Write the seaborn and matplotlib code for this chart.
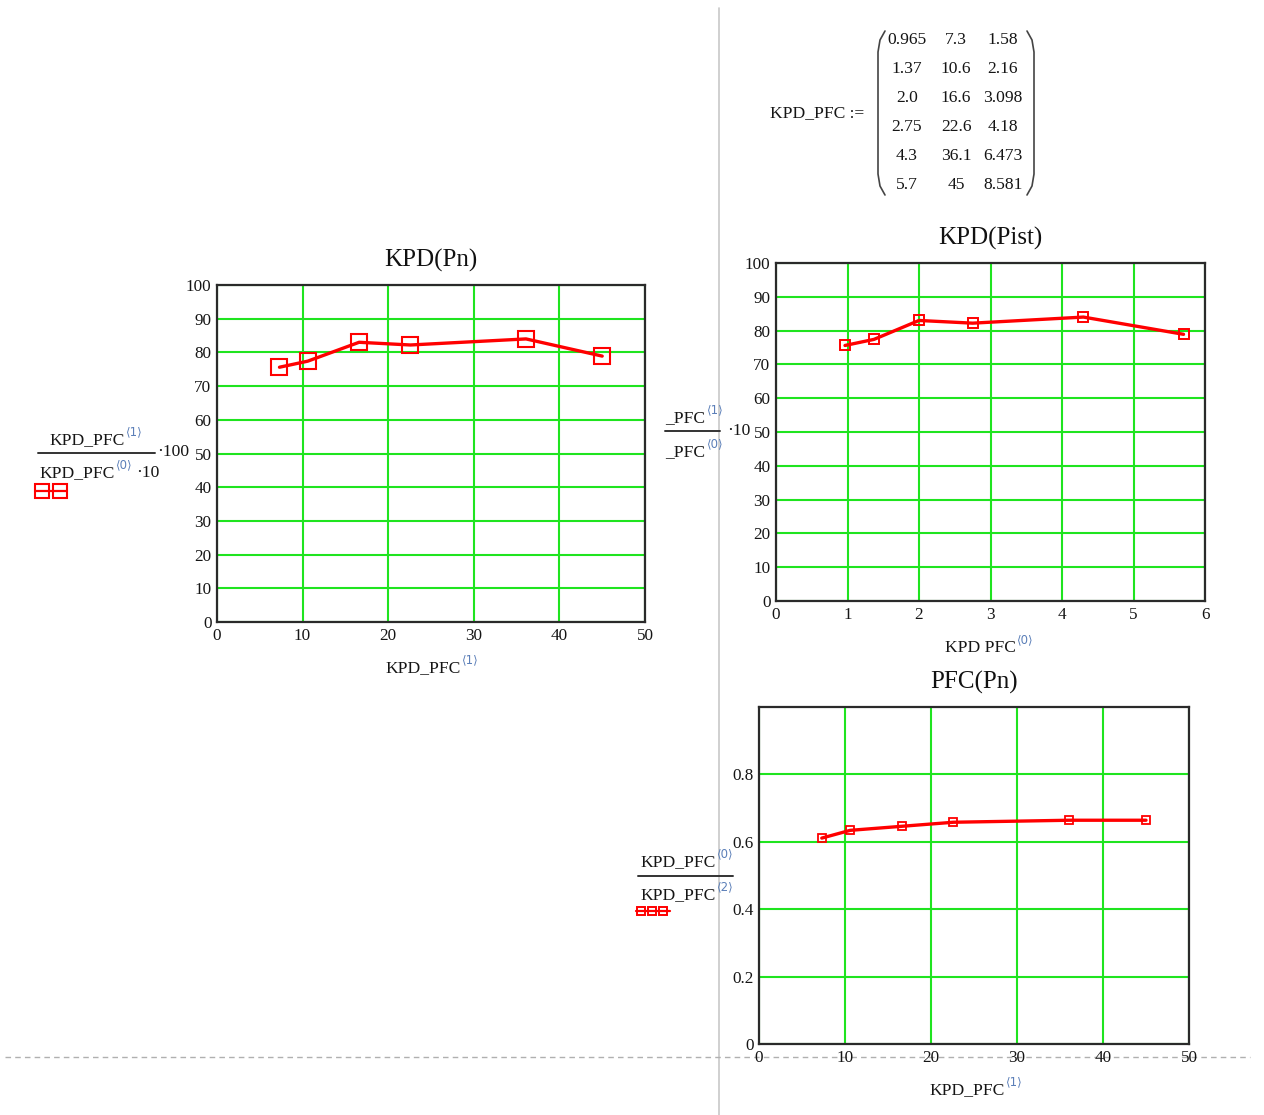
import matplotlib
matplotlib.use("Agg")
import matplotlib.pyplot as plt
import seaborn as sns
import pandas as pd

# ---------------- data ----------------
pist = [0.965, 1.37, 2.0, 2.75, 4.3, 5.7]          # KPD_PFC<0>
pn = [7.3, 10.6, 16.6, 22.6, 36.1, 45]              # KPD_PFC<1>
col2 = [1.58, 2.16, 3.098, 4.18, 6.473, 8.581]      # KPD_PFC<2>
col0_txt = ["0.965", "1.37", "2.0", "2.75", "4.3", "5.7"]
col1_txt = ["7.3", "10.6", "16.6", "22.6", "36.1", "45"]
col2_txt = ["1.58", "2.16", "3.098", "4.18", "6.473", "8.581"]

kpd = [75.6, 77.4, 83.0, 82.2, 84.0, 78.9]          # KPD, %
pfc = [0.611, 0.634, 0.646, 0.658, 0.664, 0.664]    # PFC

kpd_yticks = [0, 10, 20, 30, 40, 50, 60, 70, 80, 90, 100]
pn_xticks = [0, 10, 20, 30, 40, 50]
pist_xticks = [0, 1, 2, 3, 4, 5, 6]
pfc_yticks = [0, 0.2, 0.4, 0.6, 0.8]
pfc_ylabels = ["0", "0.2", "0.4", "0.6", "0.8"]

df_pn = pd.DataFrame({"Pn": pn, "KPD": kpd, "PFC": pfc})
df_pist = pd.DataFrame({"Pist": pist, "KPD": kpd})

# ---------------- style ----------------
sns.set_style("white")
plt.rcParams["font.family"] = ["Liberation Serif", "DejaVu Serif"]
W, H = 1264, 1115
fig = plt.figure(figsize=(W / 100, H / 100), dpi=100, facecolor="white")

GRID = "#1fe41f"
RED = "#ff0000"
TXT = "#151515"
SUPC = "#5b7fb8"
TICKFS = 12.3


def px_axes(l, t, r, b):
    return fig.add_axes([l / W, 1 - b / H, (r - l) / W, (b - t) / H])


def style_axes(ax, xlim, ylim, xticks, yticks, ylabels=None):
    ax.set_xlim(*xlim)
    ax.set_ylim(*ylim)
    ax.set_xticks(xticks)
    ax.set_yticks(yticks)
    if ylabels is not None:
        ax.set_yticklabels(ylabels)
    ax.grid(True, color=GRID, lw=1.5)
    ax.set_axisbelow(True)
    for s in ax.spines.values():
        s.set_color("#2a2a2a")
        s.set_linewidth(1.6)
        s.set_visible(True)
    ax.tick_params(length=0, labelsize=TICKFS, labelcolor=TXT, pad=4)
    ax.set_xlabel("")
    ax.set_ylabel("")
    ax.set_facecolor("white")


# overlay for annotations (pixel coordinates)
ov = fig.add_axes([0, 0, 1, 1])
ov.set_xlim(0, W)
ov.set_ylim(H, 0)
ov.axis("off")

TFS = 18
TPAD = 13.5

# --- left chart: KPD(Pn)
ax1 = px_axes(217, 285, 645, 622)
sns.lineplot(data=df_pn, x="Pn", y="KPD", ax=ax1, color=RED, lw=2.4, sort=False,
             marker="s", ms=11, mfc="none", mec=RED, mew=1.5)
style_axes(ax1, (0, 50), (0, 100), pn_xticks, kpd_yticks)
ax1.set_title("KPD(Pn)", fontsize=TFS, pad=TPAD, color="#111111")

# --- right chart: KPD(Pist)
ax2 = px_axes(776, 263, 1205, 601)
sns.lineplot(data=df_pist, x="Pist", y="KPD", ax=ax2, color=RED, lw=2.4, sort=False,
             marker="s", ms=7.5, mfc="none", mec=RED, mew=1.4)
style_axes(ax2, (0, 6), (0, 100), pist_xticks, kpd_yticks)
ax2.set_title("KPD(Pist)", fontsize=TFS, pad=TPAD, color="#111111")

# --- bottom chart: PFC(Pn)
ax3 = px_axes(759, 707, 1189, 1044)
sns.lineplot(data=df_pn, x="Pn", y="PFC", ax=ax3, color=RED, lw=2.4, sort=False,
             marker="s", ms=6, mfc="none", mec=RED, mew=1.3)
style_axes(ax3, (0, 50), (0, 1.0), pn_xticks, pfc_yticks, pfc_ylabels)
ax3.set_title("PFC(Pn)", fontsize=TFS, pad=TPAD, color="#111111")

# ---------------- overlay annotations ----------------
# region separators
ov.plot([719, 719], [8, H], color="#c8c8c8", lw=1.2)
ov.plot([5, 1250], [1057, 1057], color="#b0b0b0", lw=1.0, ls=(0, (4, 3)))

LF = 12.6
SF = 8.5


def lab(x, y, s, sup=None, fs=LF):
    t = ov.text(x, y, s, fontsize=fs, color=TXT, ha="left", va="center")
    if sup is not None:
        ov.annotate(sup, xy=(1.0, 0.5), xycoords=t, xytext=(1.5, 8),
                    textcoords="offset pixels", fontsize=SF, color=SUPC,
                    ha="left", va="center", family=["DejaVu Sans"])


# x axis labels
lab(385, 668, "KPD_PFC", "⟨1⟩")
lab(945, 648, "KPD PFC", "⟨0⟩")
lab(929, 1090, "KPD_PFC", "⟨1⟩")

# left y label (fraction)
lab(49, 440, "KPD_PFC", "⟨1⟩")
ov.plot([38, 155], [453, 453], color="#333333", lw=1.4)
ov.text(157, 452, "·100", fontsize=LF, color=TXT, ha="left", va="center")
lab(39, 473, "KPD_PFC", "⟨0⟩")
ov.text(136, 473, "·10", fontsize=LF, color=TXT, ha="left", va="center")
ov.plot([35, 67], [491, 491], color=RED, lw=1.6)
ov.plot([42, 60], [491, 491], ls="none", marker="s", ms=10, mfc="none", mec=RED, mew=1.5)

# right y label (fraction, clipped by region)
lab(665, 418, "_PFC", "⟨1⟩")
ov.plot([665, 720], [431, 431], color="#333333", lw=1.4)
ov.text(727, 431, "·10", fontsize=LF, color=TXT, ha="left", va="center")
lab(665, 452, "_PFC", "⟨0⟩")

# bottom y label (fraction)
lab(640, 862, "KPD_PFC", "⟨0⟩")
ov.plot([638, 733], [876, 876], color="#333333", lw=1.4)
lab(640, 895, "KPD_PFC", "⟨2⟩")
ov.plot([636, 670], [911, 911], color=RED, lw=1.6)
ov.plot([641, 652, 663], [911, 911, 911], ls="none", marker="s", ms=5.5,
        mfc="none", mec=RED, mew=1.4)

# matrix definition
ov.text(770, 113, "KPD_PFC :=", fontsize=LF, color=TXT, ha="left", va="center")
row_y = [40, 69, 98, 127, 156, 185]
for y, a, b, c in zip(row_y, col0_txt, col1_txt, col2_txt):
    ov.text(907, y, a, fontsize=LF, color=TXT, ha="center", va="center")
    ov.text(956, y, b, fontsize=LF, color=TXT, ha="center", va="center")
    ov.text(1003, y, c, fontsize=LF, color=TXT, ha="center", va="center")
# parentheses
ov.plot([885, 880, 878, 878, 880, 885], [31, 40, 52, 174, 186, 195], color="#444444", lw=1.2)
ov.plot([1027, 1032, 1034, 1034, 1032, 1027], [31, 40, 52, 174, 186, 195], color="#444444", lw=1.2)

fig.savefig("out.png", dpi=100, facecolor="white")
